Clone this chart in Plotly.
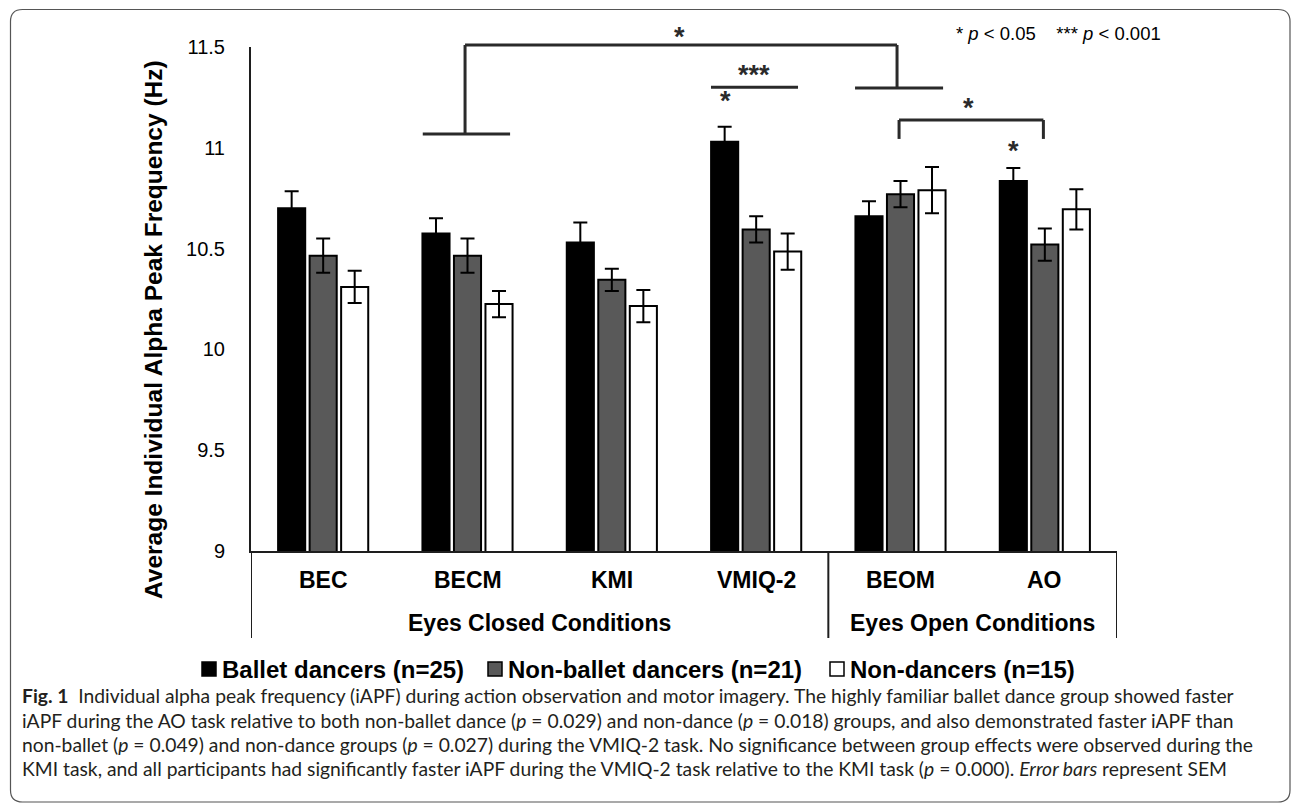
import plotly.graph_objects as go

# ---- canvas / plot-area geometry (pixels) ----
W, H = 1293, 806
ML, MR, MT, MB = 251, 176, 47, 255
PW = W - ML - MR
PH = H - MT - MB

# ---- data ----
categories = ["BEC", "BECM", "KMI", "VMIQ-2", "BEOM", "AO"]
group_names = ["Ballet dancers (n=25)", "Non-ballet dancers (n=21)", "Non-dancers (n=15)"]
ballet = [10.70, 10.575, 10.53, 11.03, 10.66, 10.835]
ballet_sem = [0.085, 0.075, 0.10, 0.075, 0.075, 0.065]
nonballet = [10.465, 10.465, 10.345, 10.595, 10.77, 10.52]
nonballet_sem = [0.085, 0.085, 0.055, 0.065, 0.065, 0.08]
nondancers = [10.31, 10.225, 10.215, 10.485, 10.79, 10.695]
nondancers_sem = [0.08, 0.065, 0.08, 0.09, 0.115, 0.10]
y_ticks = [9, 9.5, 10, 10.5, 11, 11.5]
y_ticklabels = ["9", "9.5", "10", "10.5", "11", "11.5"]
sections = [("Eyes Closed Conditions", 0, 3), ("Eyes Open Conditions", 4, 5)]

series = [(ballet, ballet_sem, "#000000"),
          (nonballet, nonballet_sem, "#595959"),
          (nondancers, nondancers_sem, "#ffffff")]

YMIN, YMAX = 9.0, 11.5
AX = "#1e1e1e"
FONT_B = "Liberation Sans, Arial, sans-serif"


def py(v):
    """data value -> paper y"""
    return (v - YMIN) / (YMAX - YMIN)


def ppx(px):
    return (px - ML) / PW


def ppy(pxy):
    return (H - MB - pxy) / PH


fig = go.Figure()
for (vals, sem, col), name in zip(series, group_names):
    fig.add_trace(go.Bar(
        x=list(range(len(categories))), y=vals, name=name,
        marker=dict(color=col, line=dict(color="#000000", width=2)),
        error_y=dict(type="data", array=sem, visible=True,
                     color="#000000", thickness=2, width=7),
        showlegend=False,
    ))

shapes = []
annotations = []

# category labels
for i, c in enumerate(categories):
    annotations.append(dict(x=i, y=ppy(580), xref="x", yref="paper", text=f"<b>{c}</b>",
                            showarrow=False, font=dict(family=FONT_B, size=23, color="#000"),
                            xanchor="center", yanchor="middle"))

# section dividers and labels
bottom = ppy(638)
for xb in [-0.5, 3.5, 5.5]:
    shapes.append(dict(type="line", xref="x", yref="paper", x0=xb, x1=xb, y0=0, y1=bottom,
                       line=dict(color=AX, width=2)))
for label, a, b in sections:
    annotations.append(dict(x=(a + b) / 2, y=ppy(623), xref="x", yref="paper",
                            text=f"<b>{label}</b>", showarrow=False,
                            font=dict(family=FONT_B, size=23, color="#000"),
                            xanchor="center", yanchor="middle"))

# significance brackets (x in category units, y in Hz)
BR = dict(color="#2a2a2a", width=3)


def seg(x0, v0, x1, v1):
    shapes.append(dict(type="line", xref="x", yref="paper", x0=x0, x1=x1,
                       y0=py(v0), y1=py(v1), line=BR))


# eyes-closed vs eyes-open bracket
seg(0.69, 11.068, 1.295, 11.068)
seg(0.983, 11.068, 0.983, 11.51)
seg(0.983, 11.51, 3.976, 11.51)
seg(3.976, 11.51, 3.976, 11.297)
seg(3.685, 11.297, 4.295, 11.297)
# VMIQ-2 vs KMI
seg(2.687, 11.30, 3.29, 11.30)
# BEOM vs AO (non-ballet)
seg(3.99, 11.044, 3.99, 11.138)
seg(3.99, 11.138, 4.99, 11.138)
seg(4.99, 11.138, 4.99, 11.044)

STAR = dict(family=FONT_B, size=27, color="#2a2a2a")
for x, v, t in [(2.472, 11.55, "*"), (2.985, 11.36, "***"), (2.785, 11.23, "*"),
                (4.47, 11.195, "*"), (4.785, 10.985, "*")]:
    annotations.append(dict(x=x, y=py(v), xref="x", yref="paper", text=f"<b>{t}</b>",
                            showarrow=False, font=STAR, xanchor="center", yanchor="middle"))

annotations.append(dict(x=ppx(954), y=ppy(33), xref="paper", yref="paper",
                        text="* <i>p</i> &lt; 0.05&nbsp;&nbsp;&nbsp;&nbsp;*** <i>p</i> &lt; 0.001",
                        showarrow=False, font=dict(family=FONT_B, size=18.5, color="#000"),
                        xanchor="left", yanchor="middle"))

# y axis title
annotations.append(dict(x=ppx(153), y=ppy(330), xref="paper", yref="paper",
                        text="<b>Average Individual Alpha Peak Frequency (Hz)</b>",
                        textangle=-90, showarrow=False,
                        font=dict(family=FONT_B, size=24.5, color="#000"),
                        xanchor="center", yanchor="middle"))

# legend (swatch + label)
leg_x = [202, 488, 830]
leg_y = 669
for (vals, sem, col), name, lx in zip(series, group_names, leg_x):
    shapes.append(dict(type="rect", xref="paper", yref="paper",
                       x0=ppx(lx), x1=ppx(lx + 14), y0=ppy(leg_y - 7), y1=ppy(leg_y + 7),
                       fillcolor=col, line=dict(color="#000", width=1.5)))
    annotations.append(dict(x=ppx(lx + 18), y=ppy(leg_y), xref="paper", yref="paper",
                            text=f"<b>{name}</b>", showarrow=False,
                            font=dict(family=FONT_B, size=24, color="#000"),
                            xanchor="left", yanchor="middle"))

# caption
caption = [
    "<b>Fig. 1</b>  Individual alpha peak frequency (iAPF) during action observation and motor imagery. The highly familiar ballet dance group showed faster",
    "iAPF during the AO task relative to both non-ballet dance (<i>p</i> = 0.029) and non-dance (<i>p</i> = 0.018) groups, and also demonstrated faster iAPF than",
    "non-ballet (<i>p</i> = 0.049) and non-dance groups (<i>p</i> = 0.027) during the VMIQ-2 task. No significance between group effects were observed during the",
    "KMI task, and all participants had significantly faster iAPF during the VMIQ-2 task relative to the KMI task (<i>p</i> = 0.000). <i>Error bars</i> represent SEM",
]
for k, line in enumerate(caption):
    annotations.append(dict(x=ppx(20), y=ppy(696 + 24.3 * k), xref="paper", yref="paper",
                            text=line, showarrow=False,
                            font=dict(family="Lato, Open Sans, sans-serif", size=19.3, color="#231f20"),
                            xanchor="left", yanchor="middle"))

# rounded outer frame
x0, x1, y0, y1, r = 10.5, 1290, 9.5, 802, 12
pts = [
    f"M {ppx(x0)},{ppy(y0 + r)}",
    f"Q {ppx(x0)},{ppy(y0)} {ppx(x0 + r)},{ppy(y0)}",
    f"L {ppx(x1 - r)},{ppy(y0)}",
    f"Q {ppx(x1)},{ppy(y0)} {ppx(x1)},{ppy(y0 + r)}",
    f"L {ppx(x1)},{ppy(y1 - r)}",
    f"Q {ppx(x1)},{ppy(y1)} {ppx(x1 - r)},{ppy(y1)}",
    f"L {ppx(x0 + r)},{ppy(y1)}",
    f"Q {ppx(x0)},{ppy(y1)} {ppx(x0)},{ppy(y1 - r)}",
    "Z",
]
shapes.append(dict(type="path", xref="paper", yref="paper", path=" ".join(pts),
                   line=dict(color="#555555", width=1.2)))

fig.update_layout(
    width=W, height=H, margin=dict(l=ML, r=MR, t=MT, b=MB, autoexpand=False),
    paper_bgcolor="white", plot_bgcolor="white",
    barmode="group", bargap=0.345, bargroupgap=0.14,
    xaxis=dict(range=[-0.5, 5.5], showticklabels=False, ticks="", showgrid=False,
               zeroline=False, showline=True, linecolor=AX, linewidth=2),
    yaxis=dict(range=[YMIN, YMAX], tickvals=y_ticks, ticktext=y_ticklabels,
               ticks="", showgrid=False, zeroline=False, showline=True,
               linecolor=AX, linewidth=2, ticklabelstandoff=20,
               tickfont=dict(family=FONT_B, size=20, color="#000")),
    shapes=shapes, annotations=annotations, showlegend=False,
)

fig.write_html("out.html")
